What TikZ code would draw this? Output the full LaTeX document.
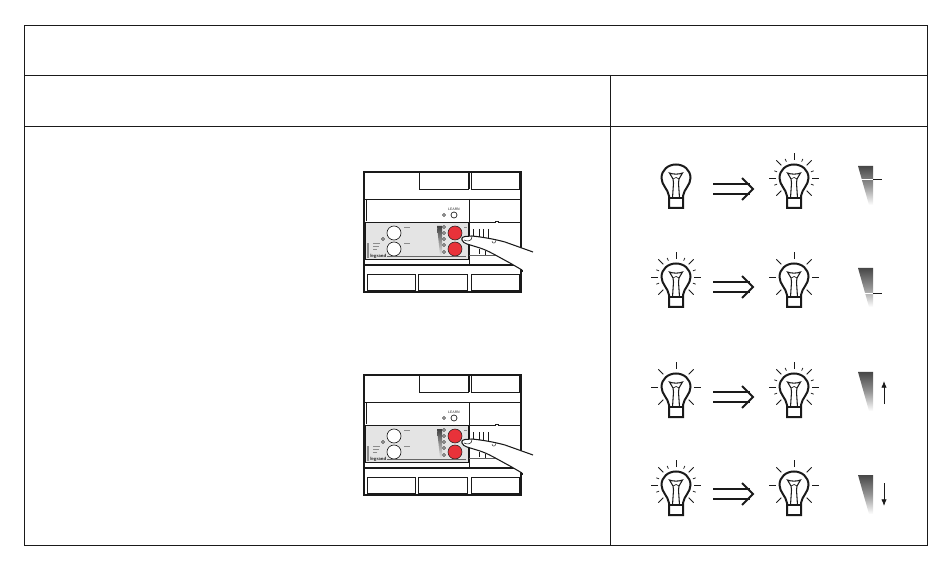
\documentclass[tikz,border=0pt]{standalone}
\usepackage{tikz}
\usetikzlibrary{arrows.meta,calc}
\definecolor{ink}{HTML}{1A1A1A}
\definecolor{signal}{HTML}{E8323A}
\definecolor{panel}{HTML}{E4E4E4}
\tikzset{
  bulb/.pic={
    \draw[bulbline,fill=white] (-7,20) -- (-7,18) .. controls (-8,11) and (-14.5,7) .. (-14.5,0)
      .. controls (-14.5,-8) and (-8,-13.5) .. (0,-13.5) .. controls (8,-13.5) and (14.5,-8) .. (14.5,0)
      .. controls (14.5,7) and (8,11) .. (7,18) -- (7,20) -- (7,30) -- (-7,30) -- cycle;
    \draw[bulbline] (-7,20) -- (7,20);
    \draw[line width=0.8pt,ink] (-3.5,20) -- (-2.5,5) -- (-3,1) -- (-6.5,-5)
      .. controls (-3,-3.5) and (3,-3.5) .. (6.5,-5) -- (3,1) -- (2.5,5) -- (3.5,20);
    \draw[line width=0.5pt,ink] (-3,1) .. controls (-1,-1) and (1,-1) .. (3,1);
  },
  longrays/.pic={
    \foreach \a in {0,-45,-90,-135,180,135,45}
      \draw[rayline] (\a:18) -- (\a:25);
  },
  shortrays/.pic={
    \foreach \a in {-20,-65,-115,-160,160,20}
      \draw[rayline] (\a:18) -- (\a:21);
  },
  dblarrow/.pic={
    \draw[line width=1.5pt,ink] (-20,-5) -- (17,-5) (-20,5) -- (17,5);
    \draw[line width=1.5pt,ink] (9,-11) -- (20,0) -- (9,11);
  },
  wedge/.pic={
    \shade[top color=black!72,bottom color=white,middle color=black!42]
      (-7.5,0) -- (7.5,0) -- (7.5,39) -- (3.5,39) -- cycle;
  },
  device/.pic={
    \draw[line width=1.1pt,ink] (0,0) rectangle (157,120);
    \draw[line width=0.6pt,ink] (55,0) rectangle (104,17) (107,0) rectangle (155,17);
    \draw[line width=0.7pt,ink] (0,27) -- (157,27) (105,0) -- (105,17);
    \draw[line width=0.5pt,ink] (105,27) -- (105,93) (2.5,27) -- (2.5,49);
    \draw[line width=0.6pt,ink] (105,50) -- (131,50) -- (131,49) -- (134,49) -- (134,50) -- (157,50);
    \draw[line width=0.3pt,ink!70] (105,83) -- (150,83);
    \draw[line width=0.7pt,ink,fill=panel] (1,50) rectangle (104,87);
    \draw[line width=0.8pt,ink] (0,93) -- (157,93);
    \draw[line width=0.6pt,ink] (3,102) rectangle (51,118) (54,102) rectangle (103,118)
      (107,102) rectangle (155,118);
    % panel details
    \draw[line width=0.5pt,ink,fill=white] (30,61) circle (7) (30,77) circle (7);
    \draw[line width=0.4pt,ink,fill=signal] (91,61) circle (7) (91,77) circle (7);
    \draw[line width=0.5pt,ink] (90,43) circle (3);
    \node[font=\fontsize{2.6}{3}\selectfont\sffamily,text=ink,inner sep=0pt] (learn) at (90,37) {LEARN};
    \foreach \y in {55,61,67,73,80}
      \draw[line width=0.3pt,ink,fill=white] (80,\y) circle (1.5);
    \draw[line width=0.3pt,ink,fill=white] (80,43) circle (1.5) (19,67) circle (1.5);
    \shade[top color=black!75,bottom color=panel] (73,54) -- (78,54) -- (78,83) -- (76,83) -- cycle;
    \fill[black!45] (3,71) rectangle (5,86);
    \draw[line width=0.5pt,black!45] (9,71) -- (16,71) (9,74) -- (15,74) (9,77) -- (13,77)
      (40,55) -- (46,55) (40,71) -- (46,71) (100,55) -- (103,55);
    \draw[line width=0.4pt,black!60] (23,84) -- (102,84);
    \node[font=\fontsize{3.6}{4}\selectfont\sffamily\bfseries,text=ink,inner sep=0pt,anchor=west] (brand) at (6,84) {legrand};
    % ribs behind the hand
    \draw[line width=0.7pt,ink] (109,57) -- (109,66) (115,57) -- (115,66) (119,57) -- (119,67) (124,57) -- (124,67)
      (115,77) -- (115,82) (121,79) -- (121,83);
    % hand
    \fill[white] (98,67) .. controls (98,65) and (99,65) .. (101,64.5) -- (108,64)
      -- (126,67) -- (141,70) -- (169,80) -- (158,98) -- (146,91) -- (131,83) -- (116,76) -- (101,71) -- cycle;
    \draw[line width=0.8pt,ink] (169,80) -- (141,70) .. controls (130,67) and (118,65) .. (108,64)
      -- (101,64.5) .. controls (98,65) and (97,67) .. (98,68) .. controls (99,70) and (100,71) .. (103,72)
      -- (116,76) .. controls (125,79) and (131,83) .. (146,91) -- (158,98);
    \draw[line width=0.4pt,ink] (158,98) -- (158,100);
    \draw[line width=0.4pt,ink] (100,68) .. controls (104,70) and (108,69) .. (108,64.5);
    \draw[line width=0.3pt,ink] (128,69) .. controls (128,72) and (132,72) .. (132,68);
  }
}
\begin{document}
\begin{tikzpicture}[x=0.75pt,y=-0.75pt,
    bulbline/.style={line width=1.5pt,ink},
    rayline/.style={line width=0.55pt,ink}]
  \useasboundingbox (0,0) rectangle (950,570);
  % table frame
  \draw[line width=0.7pt,ink] (24,25) rectangle (927,545);
  \draw[line width=0.7pt,ink] (24,75) -- (927,75) (24,126) -- (927,126) (610,75) -- (610,546);
  % devices
  \pic at (364,172) {device};
  \pic at (364,375) {device};
  % left bulbs, right bulbs, arrows
  \foreach \y/\yy in {178/189,277/287,387/397,485/494}{
    \pic at (676,\y) {bulb};
    \pic at (794,\y) {bulb};
    \pic at (733,\yy) {dblarrow};
    \pic at (794,\y) {longrays};
  }
  \pic at (676,277) {longrays};
  \pic at (676,387) {longrays};
  \pic at (676,485) {longrays};
  \pic at (676,277) {shortrays};
  \pic at (676,485) {shortrays};
  \pic at (794,178) {shortrays};
  \pic at (794,387) {shortrays};
  % gauges
  \pic at (865.5,166) {wedge};
  \pic at (865.5,268) {wedge};
  \pic at (865.5,372) {wedge};
  \pic at (865.5,475) {wedge};
  \draw[line width=0.7pt,white] (856,179) -- (873,179) (856,293) -- (873,293);
  \draw[line width=0.6pt,ink] (873,179) -- (882,179) (873,293) -- (882,293);
  \draw[-{Latex[length=5pt,width=4pt]},line width=0.6pt,ink] (884,404) -- (884,381);
  \draw[-{Latex[length=5pt,width=4pt]},line width=0.6pt,ink] (884,483) -- (884,506);
\end{tikzpicture}
\end{document}
